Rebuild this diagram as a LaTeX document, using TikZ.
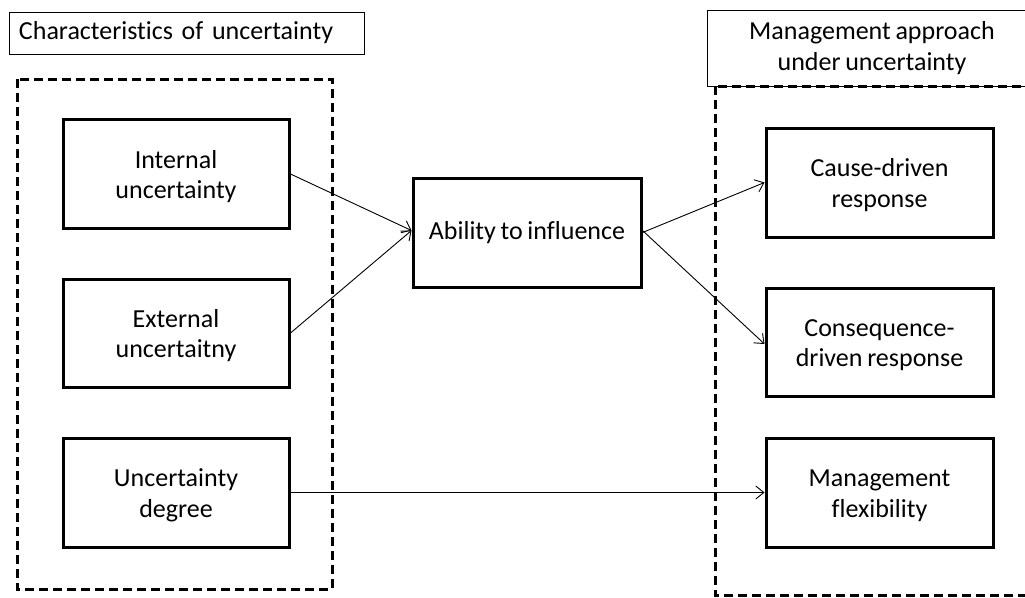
\documentclass[tikz,border=0pt]{standalone}
\usepackage{fontspec}
\setmainfont{Carlito}[WordSpace=0.8, Ligatures=NoCommon]
\usetikzlibrary{arrows.meta}
\newcommand{\twolines}[2]{\raisebox{-9.5pt}[0pt][0pt]{\begin{tabular}{@{}c@{}}#1\\#2\end{tabular}}}
\tikzset{
  box/.style={draw=black, line width=3pt, minimum width=226pt, minimum height=109pt, inner sep=0pt, font=\fontsize{26}{30.5}\selectfont},
  lbl/.style={draw=black, line width=0.8pt, inner sep=0pt, font=\fontsize{26}{31}\selectfont},
  group/.style={draw=black, line width=3pt, dash pattern=on 9pt off 5pt},
  conn/.style={line width=0.9pt, -{Straight Barb[length=8pt,width=13pt,line width=0.9pt]}}
}
\begin{document}
\begin{tikzpicture}[x=1pt,y=-1pt]
\useasboundingbox (0,0) rectangle (1025,597);
\clip (0,0) rectangle (1025,597);
\fill[white] (0,0) rectangle (1025,597);
% dashed groups
\draw[group] (17,79) rectangle (332,589);
\draw[group] (715,86) rectangle (1045,595);
% label boxes
\node[lbl, text width=335pt, align=left, inner xsep=10pt, minimum height=42pt] (lleft) at (186.5,33) {Characteristics of uncertainty};
\node[lbl, minimum width=330pt, minimum height=76pt, align=center] (lright) at (872,48) {Management approach\\under uncertainty};
% boxes
\node[box] (int) at (176,174) {\twolines{Internal}{uncertainty}};
\node[box, minimum height=108pt] (ext) at (176,333) {\twolines{External}{uncertaitny}};
\node[box] (deg) at (176,492.5) {\twolines{Uncertainty}{degree}};
\node[box, minimum width=228pt] (abil) at (527,232.5) {Ability to influence};
\node[box, minimum width=227pt] (cause) at (879.5,182.5) {\twolines{Cause-driven}{response}};
\node[box, minimum width=227pt, minimum height=108pt] (cons) at (879.5,342) {\twolines{Consequence-}{driven response}};
\node[box, minimum width=227pt] (flex) at (879.5,492.5) {\twolines{Management}{flexibility}};
% connectors
\draw[conn] (int.east) -- ([yshift=2pt]abil.west);
\draw[conn] (ext.east) -- ([yshift=2pt]abil.west);
\draw[conn] (abil.east) -- (cause.west);
\draw[conn] ([yshift=2pt]abil.east) -- ([yshift=-2pt]cons.west);
\draw[conn] (deg.east) -- (flex.west);
\end{tikzpicture}
\end{document}
